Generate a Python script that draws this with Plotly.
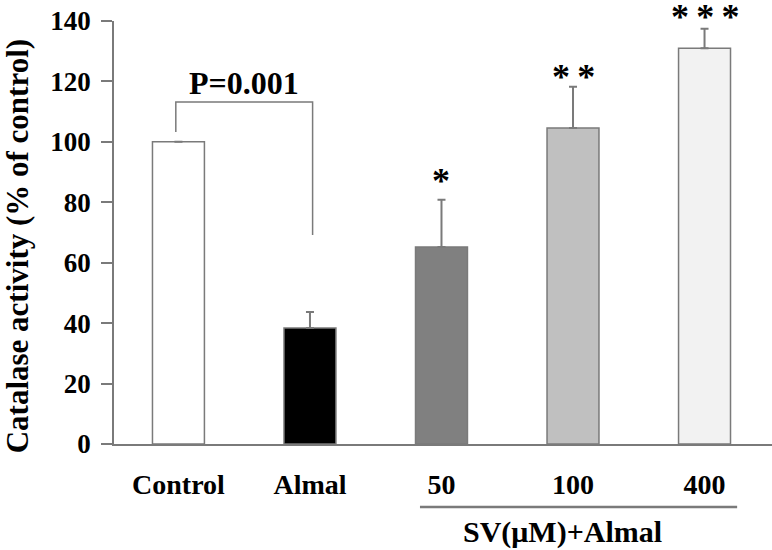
import plotly.graph_objects as go

# data
groups = ["Control", "Almal", "50", "100", "400"]
activity = [100, 38.4, 65.2, 104.6, 131.0]
sem = [None, 5.3, 15.6, 13.6, 6.4]
bar_colors = ["#ffffff", "#000000", "#808080", "#c0c0c0", "#f2f2f2"]
stars = ["", "", "*", "*\u2009*", "*\u2009*\u2009*"]
star_y = [None, None, 89.4, 123.8, 143.6]

# significance bracket Control vs Almal
p_text = "P=0.001"
bracket_top = 113.2
bracket_left_end = 103.3
bracket_right_end = 69.2

y_max = 140
font_family = "Liberation Serif, Times New Roman, serif"
line_gray = "#7a7a7a"
pos = list(range(len(groups)))

fig = go.Figure()
fig.add_trace(go.Bar(
    x=pos,
    y=activity,
    width=0.395,
    marker=dict(color=bar_colors, line=dict(color=line_gray, width=1.5)),
    error_y=dict(type="data", symmetric=False, array=sem,
                 arrayminus=[0] * len(sem), color=line_gray,
                 thickness=2, width=4),
    showlegend=False,
))

# bracket drawn as a line through the two groups
fig.add_trace(go.Scatter(
    x=[pos[0] - 0.02, pos[0] - 0.02, pos[1] + 0.02, pos[1] + 0.02],
    y=[bracket_left_end, bracket_top, bracket_top, bracket_right_end],
    mode="lines",
    line=dict(color=line_gray, width=1.5),
    hoverinfo="skip",
    showlegend=False,
))

annotations = [dict(
    x=(pos[0] + pos[1]) / 2, y=bracket_top, xref="x", yref="y", text=p_text,
    showarrow=False, xanchor="center", yanchor="bottom", yshift=-1,
    font=dict(family=font_family, size=32, color="#000000", weight="bold"),
)]
for i, s in enumerate(stars):
    if s:
        annotations.append(dict(
            x=pos[i], y=star_y[i] / y_max, xref="x", yref="paper", text=s,
            showarrow=False, xanchor="center", yanchor="middle", yshift=-7,
            font=dict(family=font_family, size=36, color="#000000", weight="bold"),
        ))

annotations.append(dict(
    x=-0.147, y=0.468, xref="paper", yref="paper",
    text="Catalase activity (% of control)", textangle=-90, showarrow=False,
    xanchor="center", yanchor="middle",
    font=dict(family=font_family, size=31, color="#000000", weight="bold"),
))
annotations.append(dict(
    x=0.681, y=-0.208, xref="paper", yref="paper", text="SV(μM)+Almal",
    showarrow=False, xanchor="center", yanchor="middle",
    font=dict(family=font_family, size=30, color="#000000", weight="bold"),
))

fig.update_layout(
    width=772,
    height=550,
    margin=dict(l=114, r=0, t=21, b=106),
    plot_bgcolor="white",
    paper_bgcolor="white",
    annotations=annotations,
    shapes=[dict(type="line", xref="paper", yref="paper",
                 x0=0.465, x1=0.947, y0=-0.149, y1=-0.149,
                 line=dict(color=line_gray, width=2.5))],
    xaxis=dict(
        range=[-0.49, 4.513],
        tickvals=pos, ticktext=groups,
        showline=True, linecolor=line_gray, linewidth=1.5,
        ticks="", showgrid=False, zeroline=False, automargin=False,
        ticklabelstandoff=15,
        tickfont=dict(family=font_family, size=28, color="#000000", weight="bold"),
    ),
    yaxis=dict(
        range=[0, y_max],
        tickvals=[0, 20, 40, 60, 80, 100, 120, 140],
        showline=True, linecolor=line_gray, linewidth=1.5,
        ticks="outside", ticklen=11, tickwidth=1.5, tickcolor=line_gray,
        showgrid=False, zeroline=False, automargin=False,
        ticklabelstandoff=5,
        tickfont=dict(family=font_family, size=27, color="#000000", weight="bold"),
    ),
)

# drop the default 8px body margin so the figure fills the window
fig.write_html("out.html", config={"displayModeBar": False},
               post_script="document.body.style.margin='0';")
